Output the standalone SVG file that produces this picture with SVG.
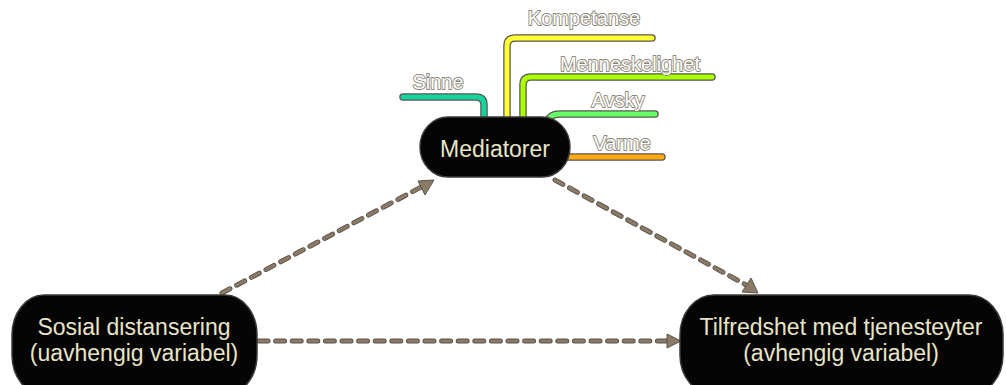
<svg xmlns="http://www.w3.org/2000/svg" width="1006" height="385" viewBox="0 0 1006 385">
<style>
.node{fill:#050505;stroke:#3c3a36;stroke-width:1.5}
.nt{font-family:"Liberation Sans",Arial,sans-serif;font-size:23px;fill:#e8e4c8;text-anchor:middle}
.bo{fill:none;stroke:#5a5650;stroke-width:7.5;stroke-linecap:round;stroke-linejoin:round}
.bi{fill:none;stroke-width:5;stroke-linecap:round;stroke-linejoin:round}
.bt{font-family:"Liberation Sans",Arial,sans-serif;font-size:20px;fill:#ffffff;stroke:#8a8574;stroke-width:1.8;paint-order:stroke;stroke-linejoin:round}
.co{fill:none;stroke:#5e5348;stroke-width:5;stroke-dasharray:9 7.6;stroke-linecap:round}
.ci{fill:none;stroke:#8a7b69;stroke-width:3.2;stroke-dasharray:9 7.6;stroke-linecap:round}
.ah{fill:#8a7b69;stroke:#5e5348;stroke-width:1}
</style>
<g id="connectors">
<line class="co" x1="222" y1="293" x2="425" y2="185"/>
<line class="ci" x1="222" y1="293" x2="425" y2="185"/>
<path class="ah" d="M418,181 L434,180 L425,195 Z"/>
<line class="co" x1="555" y1="180" x2="748" y2="286"/>
<line class="ci" x1="555" y1="180" x2="748" y2="286"/>
<path class="ah" d="M758,293 L742,292 L751,278 Z"/>
<line class="co" x1="259" y1="341" x2="668" y2="341"/>
<line class="ci" x1="259" y1="341" x2="668" y2="341"/>
<path class="ah" d="M681,341 L667,334 L667,348 Z"/>
</g>
<g id="branch-sinne">
<path class="bo" d="M403,97 L476,97 Q484,97 484,105 L484,122"/>
<path class="bi" stroke="#12d49c" d="M403,97 L476,97 Q484,97 484,105 L484,122"/>
<text class="bt" x="438" y="89" text-anchor="middle">Sinne</text>
</g>
<g id="branch-kompetanse">
<path class="bo" d="M507,122 L507,46 Q507,38 515,38 L652,38"/>
<path class="bi" stroke="#ffff33" d="M507,122 L507,46 Q507,38 515,38 L652,38"/>
<text class="bt" x="584" y="25" text-anchor="middle">Kompetanse</text>
</g>
<g id="branch-menneskelighet">
<path class="bo" d="M523,122 L523,85 Q523,77 531,77 L712,77"/>
<path class="bi" stroke="#aaff00" d="M523,122 L523,85 Q523,77 531,77 L712,77"/>
<text class="bt" x="630" y="71" text-anchor="middle">Menneskelighet</text>
</g>
<g id="branch-avsky">
<path class="bo" d="M548,121 Q550,114 560,114 L655,114"/>
<path class="bi" stroke="#66ff66" d="M548,121 Q550,114 560,114 L655,114"/>
<text class="bt" x="618" y="107" text-anchor="middle">Avsky</text>
</g>
<g id="branch-varme">
<path class="bo" d="M560,157 L662,157"/>
<path class="bi" stroke="#ffaa11" d="M560,157 L662,157"/>
<text class="bt" x="622" y="150" text-anchor="middle">Varme</text>
</g>
<g id="node-mediatorer">
<rect class="node" x="420" y="117" width="150" height="60" rx="28" ry="30"/>
<text class="nt" x="495" y="157">Mediatorer</text>
</g>
<g id="node-sosial">
<rect class="node" x="12" y="295" width="245" height="100" rx="32" ry="40"/>
<text class="nt" x="134" y="335">Sosial distansering</text>
<text class="nt" x="134" y="361">(uavhengig variabel)</text>
</g>
<g id="node-tilfredshet">
<rect class="node" x="680" y="295" width="323" height="100" rx="34" ry="40"/>
<text class="nt" x="841" y="335">Tilfredshet med tjenesteyter</text>
<text class="nt" x="841" y="361">(avhengig variabel)</text>
</g>
</svg>
